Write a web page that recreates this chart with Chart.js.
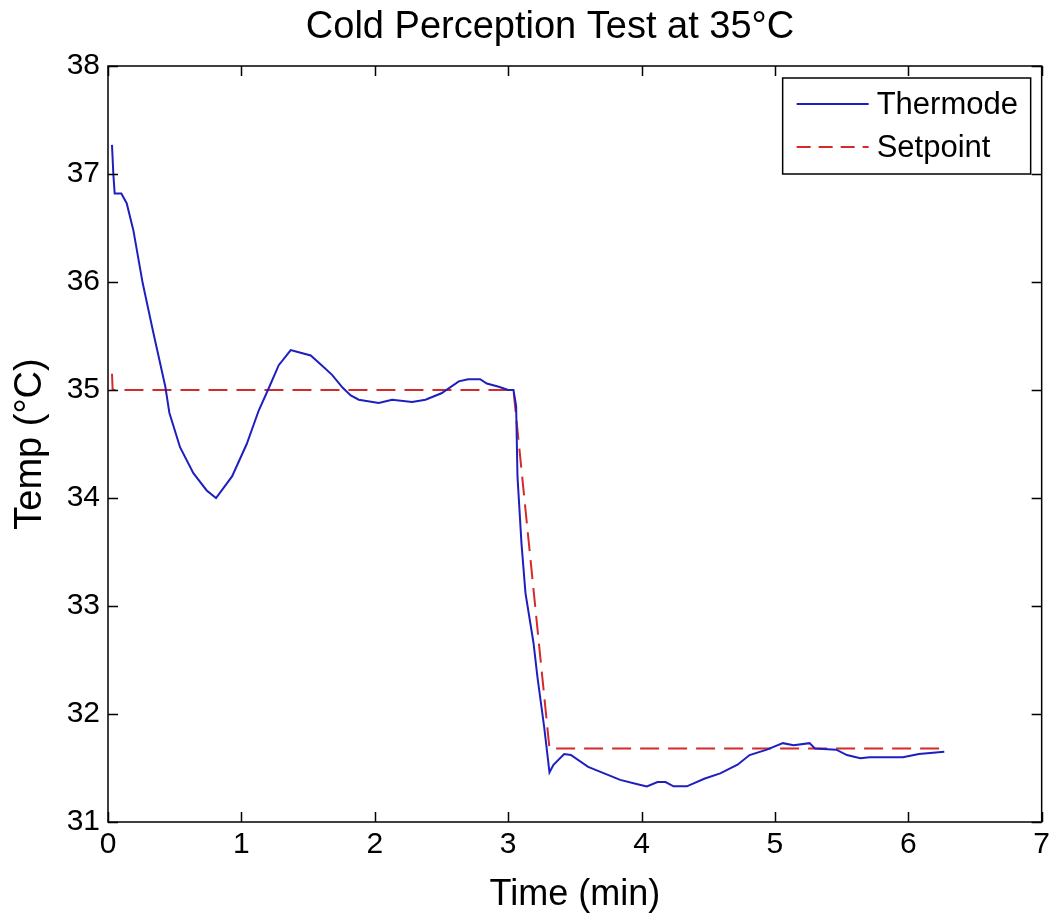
<!DOCTYPE html>
<html>
<head>
<meta charset="utf-8">
<script src="https://cdn.jsdelivr.net/npm/chart.js@4.4.1/dist/chart.umd.min.js"></script>
<style>
  html, body { margin: 0; padding: 0; background: #ffffff; }
  #wrap { width: 1055px; height: 919px; background: #ffffff; }
</style>
</head>
<body>
<div id="wrap"><canvas id="c" width="1055" height="919"></canvas></div>
<script>
// ---- Data ----
const chartTitle = 'Cold Perception Test at 35°C';
const xAxisLabel = 'Time (min)';
const yAxisLabel = 'Temp (°C)';
const seriesNames = ['Thermode', 'Setpoint'];

const thermodeTime = [0.03, 0.04, 0.05, 0.10, 0.14, 0.19, 0.26, 0.34, 0.43, 0.46, 0.54, 0.64, 0.74, 0.81,
  0.93, 1.04, 1.13, 1.21, 1.28, 1.37, 1.43, 1.52, 1.61, 1.68, 1.76, 1.82, 1.88, 2.03, 2.13, 2.28, 2.38,
  2.50, 2.63, 2.70, 2.79, 2.84, 2.93, 3.00, 3.04, 3.06, 3.07, 3.10, 3.13, 3.19, 3.22, 3.27, 3.31, 3.34,
  3.42, 3.47, 3.60, 3.72, 3.84, 3.97, 4.04, 4.12, 4.18, 4.24, 4.34, 4.47, 4.59, 4.72, 4.81, 4.94, 5.06,
  5.14, 5.26, 5.30, 5.46, 5.54, 5.64, 5.71, 5.79, 5.96, 6.08, 6.27];
const thermodeTemp = [37.27, 37.00, 36.82, 36.82, 36.73, 36.48, 35.99, 35.53, 35.03, 34.79, 34.47, 34.23, 34.07, 34.00,
  34.20, 34.50, 34.81, 35.03, 35.23, 35.37, 35.35, 35.32, 35.22, 35.14, 35.02, 34.95, 34.91, 34.88, 34.91, 34.89, 34.91,
  34.97, 35.08, 35.10, 35.10, 35.06, 35.03, 35.00, 35.00, 34.85, 34.20, 33.58, 33.12, 32.66, 32.34, 31.88, 31.46, 31.53,
  31.63, 31.62, 31.51, 31.45, 31.39, 31.35, 31.33, 31.37, 31.37, 31.33, 31.33, 31.40, 31.45, 31.53, 31.62, 31.67, 31.73,
  31.71, 31.73, 31.68, 31.67, 31.62, 31.59, 31.60, 31.60, 31.60, 31.63, 31.65];

const setpointTime = [0.03, 0.035, 3.04, 3.31, 6.27];
const setpointTemp = [35.15, 35.00, 35.00, 31.68, 31.68];

const xMin = 0, xMax = 7, xStep = 1;
const yMin = 31, yMax = 38, yStep = 1;

// ---- Build datasets ----
function toPoints(xs, ys) { return xs.map((x, i) => ({ x: x, y: ys[i] })); }

const FONT = "'Liberation Sans', Arial, Helvetica, sans-serif";
Chart.defaults.font.family = FONT;
Chart.defaults.color = '#000000';

const frameTicksPlugin = {
  id: 'frameTicks',
  afterDatasetsDraw(chart) {
    const { ctx, chartArea: a, scales } = chart;
    const len = 10;
    ctx.save();
    ctx.strokeStyle = '#000000';
    ctx.lineWidth = 1.5;
    ctx.beginPath();
    scales.x.ticks.forEach(t => {
      const px = Math.round(scales.x.getPixelForValue(t.value)) + 0.5;
      ctx.moveTo(px, a.bottom); ctx.lineTo(px, a.bottom - len);
      ctx.moveTo(px, a.top); ctx.lineTo(px, a.top + len);
    });
    scales.y.ticks.forEach(t => {
      const py = Math.round(scales.y.getPixelForValue(t.value)) + 0.5;
      ctx.moveTo(a.left, py); ctx.lineTo(a.left + len, py);
      ctx.moveTo(a.right, py); ctx.lineTo(a.right - len, py);
    });
    ctx.stroke();
    ctx.strokeRect(a.left, a.top, a.right - a.left, a.bottom - a.top);
    ctx.restore();
  }
};

const innerLegendPlugin = {
  id: 'innerLegend',
  afterDraw(chart) {
    const { ctx, chartArea: a } = chart;
    const boxW = 248, boxH = 96;
    const bx = a.right - 11 - boxW, by = a.top + 12;
    ctx.save();
    ctx.fillStyle = '#ffffff';
    ctx.fillRect(bx, by, boxW, boxH);
    ctx.strokeStyle = '#000000';
    ctx.lineWidth = 1.5;
    ctx.strokeRect(bx, by, boxW, boxH);
    const rows = [by + 26, by + 69];
    chart.data.datasets.forEach((ds, i) => {
      const y = rows[i];
      ctx.beginPath();
      ctx.strokeStyle = ds.borderColor;
      ctx.lineWidth = ds.borderWidth;
      ctx.setLineDash(ds.borderDash ? [14, 8] : []);
      ctx.moveTo(bx + 14, y);
      ctx.lineTo(bx + 86, y);
      ctx.stroke();
      ctx.setLineDash([]);
      ctx.fillStyle = '#000000';
      ctx.font = '31px ' + FONT;
      ctx.textBaseline = 'middle';
      ctx.textAlign = 'left';
      ctx.fillText(ds.label, bx + 94, y + 1);
    });
    ctx.restore();
  }
};

const titleShiftPlugin = {
  id: 'titleShift',
  afterLayout(chart) {
    if (chart.titleBlock) { chart.titleBlock.left = 54; }
  }
};

new Chart(document.getElementById('c'), {
  type: 'line',
  data: {
    datasets: [
      {
        label: seriesNames[0],
        data: toPoints(thermodeTime, thermodeTemp),
        borderColor: '#1f1fc0',
        borderWidth: 2,
        pointRadius: 0,
        tension: 0,
        fill: false
      },
      {
        label: seriesNames[1],
        data: toPoints(setpointTime, setpointTemp),
        borderColor: '#d42a2a',
        borderWidth: 2,
        borderDash: [19, 9],
        pointRadius: 0,
        tension: 0,
        fill: false
      }
    ]
  },
  options: {
    responsive: false,
    animation: false,
    layout: { padding: { left: 0, right: 9, top: 0, bottom: 0 } },
    plugins: {
      legend: { display: false },
      tooltip: { enabled: false },
      title: {
        display: true,
        text: chartTitle,
        color: '#000000',
        font: { size: 38, weight: 'normal', family: FONT },
        padding: { top: 5, bottom: 15.4 }
      }
    },
    scales: {
      x: {
        type: 'linear',
        min: xMin, max: xMax,
        ticks: { stepSize: xStep, color: '#000000', font: { size: 30 }, padding: 5, maxRotation: 0 },
        grid: { display: false, drawTicks: false },
        border: { display: false },
        title: { display: true, text: xAxisLabel, color: '#000000', font: { size: 36 }, padding: { top: 0, bottom: 2 } },
        afterFit(s) { s.height = 97; }
      },
      y: {
        type: 'linear',
        min: yMin, max: yMax,
        ticks: { stepSize: yStep, color: '#000000', font: { size: 30 }, padding: 8 },
        grid: { display: false, drawTicks: false },
        border: { display: false },
        title: { display: true, text: yAxisLabel, color: '#000000', font: { size: 38 }, padding: { top: 8, bottom: 0 } },
        afterFit(s) { s.width = 108; }
      }
    }
  },
  plugins: [frameTicksPlugin, innerLegendPlugin, titleShiftPlugin]
});
</script>
</body>
</html>
